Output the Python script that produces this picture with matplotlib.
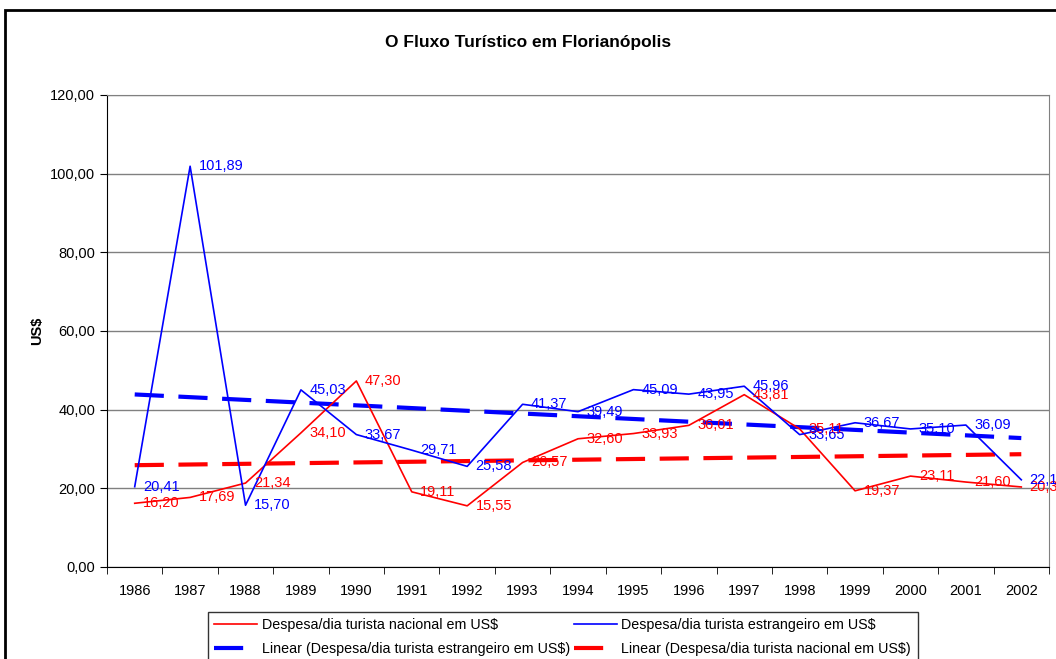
import numpy as np
import matplotlib.pyplot as plt
from matplotlib.patches import Rectangle

plt.rcParams['font.family'] = ['Liberation Sans', 'DejaVu Sans']

# dados
anos = ['1986', '1987', '1988', '1989', '1990', '1991', '1992', '1993', '1994',
        '1995', '1996', '1997', '1998', '1999', '2000', '2001', '2002']
nacional = [16.20, 17.69, 21.34, 34.10, 47.30, 19.11, 15.55, 26.57, 32.60,
            33.93, 36.01, 43.81, 35.11, 19.37, 23.11, 21.60, 20.35]
estrangeiro = [20.41, 101.89, 15.70, 45.03, 33.67, 29.71, 25.58, 41.37, 39.49,
               45.09, 43.95, 45.96, 33.65, 36.67, 35.10, 36.09, 22.17]

x = np.arange(len(anos))

def fmt(v):
    return f"{v:.2f}".replace('.', ',')

fig = plt.figure(figsize=(10.56, 6.59), dpi=100)
ax = fig.add_axes([107 / 1056, 1 - 567 / 659, (1049 - 107) / 1056, (567 - 95) / 659])

# borda externa do gráfico
fig.patches.append(Rectangle((5 / 1056, -0.1), 1.1, 1 - 10 / 659 + 0.1,
                             transform=fig.transFigure, fill=False,
                             edgecolor='black', linewidth=2, zorder=0))

# linhas de tendência (regressão linear)
c_est = np.polyfit(x, estrangeiro, 1)
c_nac = np.polyfit(x, nacional, 1)

l1, = ax.plot(x, nacional, color='#ff0000', lw=1.2, zorder=3)
l2, = ax.plot(x, estrangeiro, color='#0000ff', lw=1.2, zorder=3)
l3, = ax.plot(x, np.polyval(c_est, x), color='#0000ff', lw=3, ls=(0, (7, 3.5)), zorder=2)
l4, = ax.plot(x, np.polyval(c_nac, x), color='#ff0000', lw=3, ls=(0, (7, 3.5)), zorder=2)

for i in x:
    ax.annotate(fmt(nacional[i]), (i, nacional[i]), xytext=(6, 0), textcoords='offset points',
                ha='left', va='center', color='#ff0000', fontsize=10.5, annotation_clip=False, zorder=4)
    ax.annotate(fmt(estrangeiro[i]), (i, estrangeiro[i]), xytext=(6, 0), textcoords='offset points',
                ha='left', va='center', color='#0000ff', fontsize=10.5, annotation_clip=False, zorder=4)

ax.set_xlim(-0.5, len(anos) - 0.5)
ax.set_ylim(0, 120)
ax.set_yticks(np.arange(0, 121, 20))
ax.set_yticklabels([fmt(v) for v in np.arange(0, 121, 20)], fontsize=10.5)
ax.set_xticks(x)
ax.set_xticklabels(anos, fontsize=10.5)
ax.set_xticks(np.arange(-0.5, len(anos), 1), minor=True)
ax.tick_params(axis='x', which='major', length=0, pad=12)
ax.tick_params(axis='x', which='minor', length=5, direction='out')
ax.tick_params(axis='y', length=5, direction='out')

ax.yaxis.grid(True, color='#808080', lw=1)
ax.set_axisbelow(True)
ax.spines['top'].set_color('#808080')
ax.spines['right'].set_color('#808080')

ax.set_ylabel('US$', fontsize=10.5, fontweight='bold', labelpad=4)
fig.text(0.5, 1 - 42 / 659, 'O Fluxo Turístico em Florianópolis', ha='center', va='center',
         fontsize=12.5, fontweight='bold')

leg = fig.legend([l1, l3, l2, l4],
                 ['Despesa/dia turista nacional em US$',
                  'Linear (Despesa/dia turista estrangeiro em US$)',
                  'Despesa/dia turista estrangeiro em US$',
                  'Linear (Despesa/dia turista nacional em US$)'],
                 ncol=2, loc='upper left', bbox_to_anchor=(208 / 1056, 1 - 612 / 659),
                 bbox_transform=fig.transFigure, borderaxespad=0, fontsize=10.3,
                 frameon=True, fancybox=False, edgecolor='black', handlelength=3,
                 handletextpad=0.3, columnspacing=0.3, borderpad=0.45, labelspacing=0.65)
leg.get_frame().set_linewidth(1)

fig.savefig('out.png', dpi=100)
